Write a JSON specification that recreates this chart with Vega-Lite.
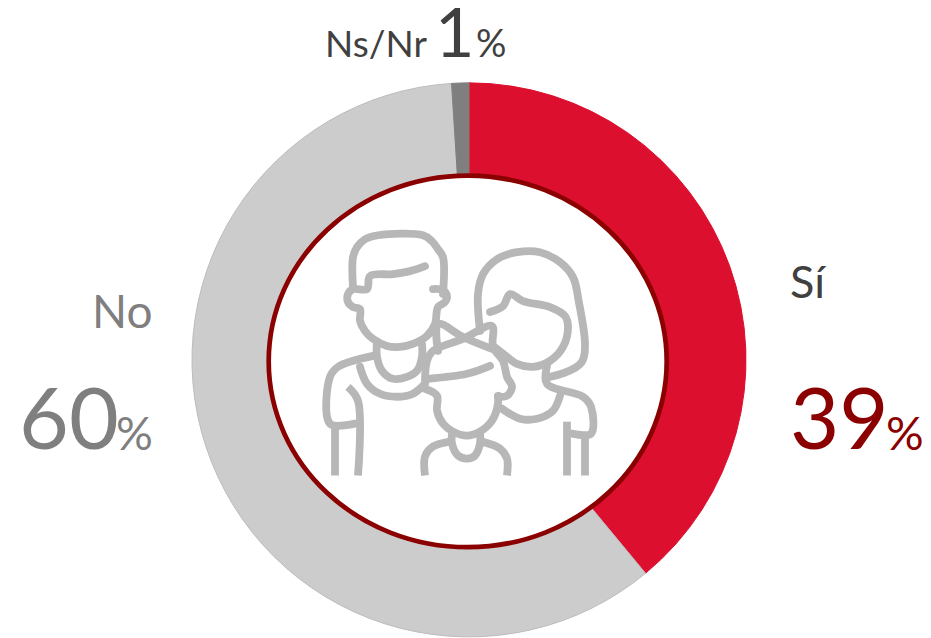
{
"$schema":"https://vega.github.io/schema/vega-lite/v6.json",
"width":931,"height":638,"padding":0,"autosize":{"type":"fit","contains":"padding"},
"background":"white","view":{"stroke":null},
"datasets":{
"answers":[{"answer":"Sí","share":39,"rank":1},{"answer":"No","share":60,"rank":2},{"answer":"Ns/Nr","share":1,"rank":3}],
"icon":[
{"p":"hair","i":1,"x":353,"y":288},{"p":"hair","i":2,"x":353,"y":258},{"p":"hair","i":3,"x":357,"y":248},{"p":"hair","i":4,"x":365,"y":240},{"p":"hair","i":5,"x":378,"y":236},{"p":"hair","i":6,"x":423,"y":236},{"p":"hair","i":7,"x":432,"y":242},{"p":"hair","i":8,"x":438,"y":250},{"p":"hair","i":9,"x":443,"y":258},{"p":"hair","i":10,"x":443,"y":295},
{"p":"face","i":1,"x":425,"y":267},{"p":"face","i":2,"x":410,"y":272},{"p":"face","i":3,"x":393,"y":275},{"p":"face","i":4,"x":370,"y":277},{"p":"face","i":5,"x":367,"y":290},{"p":"face","i":6,"x":353,"y":290},{"p":"face","i":7,"x":348,"y":295},{"p":"face","i":8,"x":348,"y":303},{"p":"face","i":9,"x":353,"y":308},{"p":"face","i":10,"x":360,"y":310},{"p":"face","i":11,"x":360,"y":322},{"p":"face","i":12,"x":365,"y":332},{"p":"face","i":13,"x":373,"y":340},{"p":"face","i":14,"x":387,"y":347},{"p":"face","i":15,"x":400,"y":348},{"p":"face","i":16,"x":413,"y":345},{"p":"face","i":17,"x":427,"y":337},{"p":"face","i":18,"x":435,"y":325},{"p":"face","i":19,"x":438,"y":308},{"p":"face","i":20,"x":445,"y":303},{"p":"face","i":21,"x":447,"y":297},{"p":"face","i":22,"x":443,"y":291},{"p":"face","i":23,"x":433,"y":290},
{"p":"collar","i":1,"x":377,"y":343},{"p":"collar","i":2,"x":377,"y":358},{"p":"collar","i":3,"x":382,"y":372},{"p":"collar","i":4,"x":393,"y":380},{"p":"collar","i":5,"x":407,"y":378},{"p":"collar","i":6,"x":417,"y":372},{"p":"collar","i":7,"x":422,"y":358},{"p":"collar","i":8,"x":422,"y":345},
{"p":"shoulder","i":1,"x":373,"y":357},{"p":"shoulder","i":2,"x":338,"y":368},{"p":"shoulder","i":3,"x":330,"y":378},{"p":"shoulder","i":4,"x":330,"y":425},{"p":"shoulder","i":5,"x":355,"y":425},
{"p":"collar2","i":1,"x":360,"y":368},{"p":"collar2","i":2,"x":367,"y":385},{"p":"collar2","i":3,"x":380,"y":395},{"p":"collar2","i":4,"x":397,"y":398},{"p":"collar2","i":5,"x":413,"y":395},{"p":"collar2","i":6,"x":425,"y":385},
{"p":"arm1","i":1,"x":348,"y":388},{"p":"arm1","i":2,"x":358,"y":402},{"p":"arm1","i":3,"x":358,"y":477},
{"p":"arm2","i":1,"x":335,"y":425},{"p":"arm2","i":2,"x":335,"y":477},
{"p":"bar","i":1,"x":438,"y":352},{"p":"bar","i":2,"x":438,"y":325},{"p":"bar","i":3,"x":463,"y":338},{"p":"bar","i":4,"x":492,"y":350},
{"p":"childhair","i":1,"x":425,"y":382},{"p":"childhair","i":2,"x":427,"y":362},{"p":"childhair","i":3,"x":433,"y":352},{"p":"childhair","i":4,"x":463,"y":340},{"p":"childhair","i":5,"x":492,"y":327},{"p":"childhair","i":6,"x":493,"y":348},{"p":"childhair","i":7,"x":503,"y":362},{"p":"childhair","i":8,"x":507,"y":378},{"p":"childhair","i":9,"x":512,"y":388},{"p":"childhair","i":10,"x":507,"y":397},{"p":"childhair","i":11,"x":498,"y":398},
{"p":"fringe","i":1,"x":490,"y":367},{"p":"fringe","i":2,"x":467,"y":375},{"p":"fringe","i":3,"x":428,"y":380},
{"p":"childface","i":1,"x":425,"y":390},{"p":"childface","i":2,"x":437,"y":397},{"p":"childface","i":3,"x":437,"y":412},{"p":"childface","i":4,"x":443,"y":425},{"p":"childface","i":5,"x":453,"y":433},{"p":"childface","i":6,"x":467,"y":437},{"p":"childface","i":7,"x":480,"y":433},{"p":"childface","i":8,"x":492,"y":422},{"p":"childface","i":9,"x":498,"y":405},{"p":"childface","i":10,"x":498,"y":397},
{"p":"childneck","i":1,"x":452,"y":435},{"p":"childneck","i":2,"x":452,"y":445},{"p":"childneck","i":3,"x":458,"y":457},{"p":"childneck","i":4,"x":467,"y":460},{"p":"childneck","i":5,"x":475,"y":457},{"p":"childneck","i":6,"x":480,"y":445},{"p":"childneck","i":7,"x":480,"y":435},
{"p":"childl","i":1,"x":450,"y":443},{"p":"childl","i":2,"x":433,"y":448},{"p":"childl","i":3,"x":425,"y":458},{"p":"childl","i":4,"x":425,"y":477},
{"p":"childr","i":1,"x":482,"y":443},{"p":"childr","i":2,"x":500,"y":450},{"p":"childr","i":3,"x":507,"y":460},{"p":"childr","i":4,"x":507,"y":477},
{"p":"wohair","i":1,"x":480,"y":332},{"p":"wohair","i":2,"x":478,"y":295},{"p":"wohair","i":3,"x":483,"y":275},{"p":"wohair","i":4,"x":497,"y":260},{"p":"wohair","i":5,"x":517,"y":253},{"p":"wohair","i":6,"x":540,"y":253},{"p":"wohair","i":7,"x":560,"y":263},{"p":"wohair","i":8,"x":573,"y":278},{"p":"wohair","i":9,"x":578,"y":298},{"p":"wohair","i":10,"x":582,"y":363},{"p":"wohair","i":11,"x":550,"y":378},
{"p":"woface","i":1,"x":490,"y":313},{"p":"woface","i":2,"x":503,"y":307},{"p":"woface","i":3,"x":510,"y":295},{"p":"woface","i":4,"x":523,"y":302},{"p":"woface","i":5,"x":550,"y":308},{"p":"woface","i":6,"x":565,"y":317},{"p":"woface","i":7,"x":568,"y":328},{"p":"woface","i":8,"x":563,"y":348},{"p":"woface","i":9,"x":550,"y":362},{"p":"woface","i":10,"x":533,"y":368},{"p":"woface","i":11,"x":517,"y":365},{"p":"woface","i":12,"x":507,"y":358},{"p":"woface","i":13,"x":493,"y":347},
{"p":"woneck","i":1,"x":547,"y":367},{"p":"woneck","i":2,"x":547,"y":385},{"p":"woneck","i":3,"x":583,"y":398},{"p":"woneck","i":4,"x":591,"y":408},{"p":"woneck","i":5,"x":591,"y":435},{"p":"woneck","i":6,"x":572,"y":435},
{"p":"wocollar","i":1,"x":560,"y":397},{"p":"wocollar","i":2,"x":553,"y":412},{"p":"wocollar","i":3,"x":537,"y":420},{"p":"wocollar","i":4,"x":520,"y":420},{"p":"wocollar","i":5,"x":502,"y":410},
{"p":"woarm1","i":1,"x":567,"y":423},{"p":"woarm1","i":2,"x":567,"y":477},
{"p":"woarm2","i":1,"x":585,"y":435},{"p":"woarm2","i":2,"x":585,"y":477}
]},
"layer":[
{"data":{"name":"answers"},
"mark":{"type":"arc","radius":277,"radius2":170,"strokeWidth":1},
"encoding":{
"x":{"datum":469,"type":"quantitative","scale":{"domain":[0,931],"nice":false,"zero":false},"axis":null},
"y":{"datum":361,"type":"quantitative","scale":{"domain":[638,0],"nice":false,"zero":false},"axis":null},
"theta":{"field":"share","type":"quantitative","stack":true,"scale":{"domain":[0,100],"range":[0,6.283185]}},
"order":{"field":"rank","type":"ordinal"},
"color":{"field":"answer","type":"nominal","legend":null,"scale":{"domain":["Sí","No","Ns/Nr"],"range":["#dc0f2f","#cccccc","#7f7f7f"]}},
"stroke":{"field":"answer","type":"nominal","legend":null,"scale":{"domain":["Sí","No","Ns/Nr"],"range":["#dc0f2f","#bcbcbc","#7f7f7f"]}}
}},
{"data":{"name":"answers"},"transform":[{"filter":"datum.rank==1"}],
"mark":{"type":"point","filled":false,"fill":"white","fillOpacity":1,"stroke":"#8b0000","strokeWidth":4.7,"opacity":1,"size":158404,"shape":"M -1 0 A 1 0.9337 0 1 1 1 0 A 1 0.9337 0 1 1 -1 0 Z"},
"encoding":{"x":{"datum":467.7,"type":"quantitative"},"y":{"datum":362.5,"type":"quantitative"}}},
{"data":{"name":"icon"},"transform":[{"filter":"indexof(['arm1','arm2','childl','childr','woarm1','woarm2'],datum.p)<0"}],
"mark":{"type":"line","stroke":"#b7b7b7","strokeWidth":7.8,"strokeCap":"round","strokeJoin":"round","interpolate":"catmull-rom"},
"encoding":{"x":{"field":"x","type":"quantitative"},"y":{"field":"y","type":"quantitative"},"detail":{"field":"p"},"order":{"field":"i","type":"quantitative"}}},
{"data":{"name":"icon"},"transform":[{"filter":"indexof(['arm1','arm2','childl','childr','woarm1','woarm2'],datum.p)>=0"}],
"mark":{"type":"line","stroke":"#b7b7b7","strokeWidth":7.8,"strokeCap":"butt","strokeJoin":"round","interpolate":"catmull-rom"},
"encoding":{"x":{"field":"x","type":"quantitative"},"y":{"field":"y","type":"quantitative"},"detail":{"field":"p"},"order":{"field":"i","type":"quantitative"}}},
{"data":{"name":"answers"},"transform":[{"filter":"datum.rank==3"}],
"mark":{"type":"text","font":"Lato","fontSize":37,"align":"left","baseline":"alphabetic","color":"#404040"},
"encoding":{"x":{"datum":325,"type":"quantitative"},"y":{"datum":57,"type":"quantitative"},"text":{"field":"answer"}}},
{"data":{"name":"answers"},"transform":[{"filter":"datum.rank==3"}],
"mark":{"type":"text","font":"Lato","fontSize":68,"align":"left","baseline":"alphabetic","color":"#404040"},
"encoding":{"x":{"datum":435,"type":"quantitative"},"y":{"datum":57,"type":"quantitative"},"text":{"field":"share"}}},
{"data":{"name":"answers"},"transform":[{"filter":"datum.rank==3"}],
"mark":{"type":"text","font":"Lato","fontSize":38,"align":"left","baseline":"alphabetic","color":"#404040","text":"%"},
"encoding":{"x":{"datum":476,"type":"quantitative"},"y":{"datum":57,"type":"quantitative"}}},
{"data":{"name":"answers"},"transform":[{"filter":"datum.rank==2"}],
"mark":{"type":"text","font":"Lato","fontSize":46,"align":"left","baseline":"alphabetic","color":"#7f7f7f"},
"encoding":{"x":{"datum":92,"type":"quantitative"},"y":{"datum":329,"type":"quantitative"},"text":{"field":"answer"}}},
{"data":{"name":"answers"},"transform":[{"filter":"datum.rank==2"}],
"mark":{"type":"text","font":"Lato","fontSize":86,"align":"left","baseline":"alphabetic","color":"#7f7f7f"},
"encoding":{"x":{"datum":19,"type":"quantitative"},"y":{"datum":450,"type":"quantitative"},"text":{"field":"share"}}},
{"data":{"name":"answers"},"transform":[{"filter":"datum.rank==2"}],
"mark":{"type":"text","font":"Lato","fontSize":46,"align":"left","baseline":"alphabetic","color":"#7f7f7f","text":"%"},
"encoding":{"x":{"datum":116,"type":"quantitative"},"y":{"datum":451,"type":"quantitative"}}},
{"data":{"name":"answers"},"transform":[{"filter":"datum.rank==1"}],
"mark":{"type":"text","font":"Lato","fontSize":45,"align":"left","baseline":"alphabetic","color":"#404040"},
"encoding":{"x":{"datum":790,"type":"quantitative"},"y":{"datum":299,"type":"quantitative"},"text":{"field":"answer"}}},
{"data":{"name":"answers"},"transform":[{"filter":"datum.rank==1"}],
"mark":{"type":"text","font":"Lato","fontSize":85,"align":"left","baseline":"alphabetic","color":"#8b0000"},
"encoding":{"x":{"datum":790,"type":"quantitative"},"y":{"datum":450,"type":"quantitative"},"text":{"field":"share"}}},
{"data":{"name":"answers"},"transform":[{"filter":"datum.rank==1"}],
"mark":{"type":"text","font":"Lato","fontSize":47,"align":"left","baseline":"alphabetic","color":"#8b0000","text":"%"},
"encoding":{"x":{"datum":886,"type":"quantitative"},"y":{"datum":451,"type":"quantitative"}}}
]
}
